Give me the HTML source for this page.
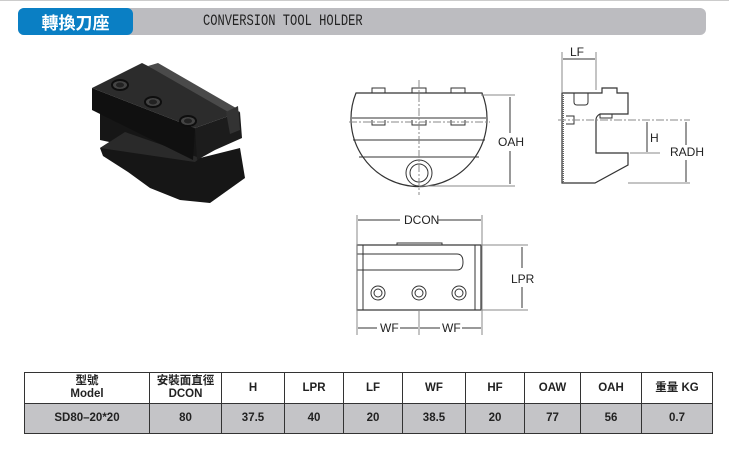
<!DOCTYPE html>
<html><head><meta charset="utf-8"><style>
body{margin:0;width:729px;height:451px;background:#fff;position:relative;overflow:hidden;font-family:"Liberation Sans","Noto Sans CJK TC",sans-serif}
.hdr{position:absolute;left:18px;top:8px;width:688px;height:27px;background:#bcbcc0;border-radius:6px}
.blue{position:absolute;left:18px;top:8px;width:115px;height:27px;background:#0a7fc4;border-radius:6px;color:#fff;font-size:17px;font-weight:bold;line-height:27px;text-align:center;font-family:"Noto Sans CJK TC",sans-serif}
.en{position:absolute;left:203px;top:8px;line-height:27px;font-family:"Liberation Mono",monospace;font-size:15.5px;color:#222;transform:scaleX(0.78);transform-origin:left}
table{position:absolute;left:24px;top:372px;width:689px;border-collapse:collapse;font-size:11.5px;font-weight:bold;color:#222;font-family:"Liberation Sans","Noto Sans CJK TC",sans-serif}
td{border:1px solid #333;text-align:center;padding:0;line-height:13px}
tr.h td{height:30px;background:#fff}
tr.d td{height:29px;background:#c4c4c7}
</style></head><body>
<div style="position:absolute;left:0;top:0;width:729px;height:1px;background:#ccc"></div>
<div class="hdr"></div><div class="blue">轉換刀座</div><div class="en">CONVERSION TOOL HOLDER</div>

<svg width="729" height="451" style="position:absolute;left:0;top:0" font-family="Liberation Sans, sans-serif">
<!-- photo -->
<g>
<polygon points="100,148 125,132 200,158 240,148 245,178 210,203 180,200 150,188 128,172 103,156" fill="#161616"/>
<polygon points="100,140 193,160 210,150 200,130 100,110" fill="#161616"/>
<polygon points="100,148 125,132 200,158 195,162" fill="#2a2a2a"/>
<polygon points="92,88 142,63 240,112 195,128" fill="#2c2c2c"/>
<polygon points="92,88 195,128 193,160 92,110" fill="#101010"/>
<polygon points="195,128 240,112 242,138 215,150 197,160" fill="#1c1c1c"/>
<polygon points="148,66 158,63 236,108 230,113" fill="#4a4a4a"/>
<polygon points="226,112 238,106 240,130 230,134" fill="#333"/>
<g fill="#444" stroke="#0e0e0e" stroke-width="2">
<ellipse cx="120" cy="85" rx="8" ry="5"/><ellipse cx="153" cy="102" rx="8" ry="5"/><ellipse cx="188" cy="121" rx="8" ry="5"/></g>
<g fill="#222"><ellipse cx="120" cy="85" rx="4" ry="2.5"/><ellipse cx="153" cy="102" rx="4" ry="2.5"/><ellipse cx="188" cy="121" rx="4" ry="2.5"/></g>
</g>
<g stroke="#333" fill="none" stroke-width="1">
<!-- front view -->
<path d="M356,93 L482,93 A68,68 0 1,1 356,93 Z" stroke-width="1.2"/>
<path d="M372,93 v-5 h13 v5 M412,93 v-5 h14 v5 M451,93 v-5 h14 v5"/>
<path d="M372,120 v5 h13 v-5 M412,120 v5 h14 v-5 M451,120 v5 h14 v-5"/>
<line x1="352" y1="118" x2="486" y2="118"/>
<line x1="353" y1="140" x2="485" y2="140"/><line x1="359" y1="157" x2="479" y2="157"/>
<circle cx="419" cy="173" r="13"/><circle cx="419" cy="173" r="9"/>
<line x1="349" y1="122" x2="490" y2="122" stroke-dasharray="8,2,2,2" stroke="#888"/>
<line x1="419" y1="80" x2="419" y2="195" stroke-dasharray="8,2,2,2" stroke="#888"/>
<line x1="481" y1="95" x2="515" y2="95" stroke="#888"/><line x1="419" y1="186" x2="515" y2="186" stroke="#888"/>
<line x1="510" y1="97" x2="510" y2="133"/><line x1="510" y1="151" x2="510" y2="184"/>
<!-- side view -->
<path d="M562,93 L602,93 L602,88 L617,88 L617,93 L628,93 L628,114 L600,114 Q596,116 596,120 L596,153 L628,153 L628,165 L595,183 L562,183 Z" stroke-width="1.2"/>
<path d="M574,93 v9 q0,3 3,3 h8 q3,0 3,-3 v-9"/>
<path d="M600,114 v4 h12 v-4"/>
<path d="M566,116 h8 v8 h-8"/>
<line x1="563" y1="95" x2="563" y2="182" stroke="#666" stroke-width="2" stroke-dasharray="1,1"/>
<line x1="558" y1="120" x2="690" y2="120" stroke-dasharray="8,2,2,2" stroke="#888"/>
<line x1="562" y1="52" x2="562" y2="92" stroke="#888"/><line x1="596" y1="52" x2="596" y2="90" stroke="#888"/>
<line x1="563" y1="59" x2="595" y2="59"/>
<line x1="630" y1="153" x2="660" y2="153" stroke="#888"/><line x1="628" y1="183" x2="690" y2="183" stroke="#888"/>
<line x1="647" y1="122" x2="647" y2="152"/><line x1="686" y1="122" x2="686" y2="145"/><line x1="686" y1="160" x2="686" y2="182"/>
<!-- top view -->
<rect x="357" y="245" width="124" height="65" stroke-width="1.2"/>
<line x1="363" y1="245" x2="363" y2="310"/><line x1="475" y1="245" x2="475" y2="310"/>
<path d="M397,245 v-2 h45 v2"/>
<path d="M357,254 h100 q6,0 6,8 q0,8 -6,8 h-100"/>
<circle cx="378" cy="293" r="7"/><circle cx="378" cy="293" r="4"/>
<circle cx="419" cy="293" r="7"/><circle cx="419" cy="293" r="4"/>
<circle cx="459" cy="293" r="7"/><circle cx="459" cy="293" r="4"/>
<line x1="357" y1="215" x2="357" y2="335" stroke="#888"/><line x1="482" y1="215" x2="482" y2="335" stroke="#888"/>
<line x1="419" y1="310" x2="419" y2="335" stroke="#888"/>
<line x1="358" y1="220" x2="400" y2="220"/><line x1="438" y1="220" x2="481" y2="220"/>
<line x1="481" y1="245" x2="528" y2="245" stroke="#888"/><line x1="481" y1="310" x2="528" y2="310" stroke="#888"/>
<line x1="522" y1="247" x2="522" y2="268"/><line x1="522" y1="287" x2="522" y2="308"/>
<line x1="358" y1="328" x2="377" y2="328"/><line x1="400" y1="328" x2="418" y2="328"/>
<line x1="420" y1="328" x2="440" y2="328"/><line x1="462" y1="328" x2="481" y2="328"/>
</g>
<g fill="#222" font-size="12" font-family="Liberation Sans, sans-serif">
<text x="498" y="146">OAH</text>
<text x="570" y="56">LF</text>
<text x="650" y="142">H</text>
<text x="670" y="156">RADH</text>
<text x="404" y="224">DCON</text>
<text x="511" y="283">LPR</text>
<text x="380" y="332">WF</text>
<text x="442" y="332">WF</text>
</g>
</svg>

<table>
<tr class="h"><td style="width:124px">型號<br>Model</td><td style="width:71px">安裝面直徑<br>DCON</td><td style="width:62px">H</td><td style="width:58px">LPR</td><td style="width:58px">LF</td><td style="width:62px">WF</td><td style="width:58px">HF</td><td style="width:55px">OAW</td><td style="width:60px">OAH</td><td>重量 KG</td></tr>
<tr class="d"><td>SD80–20*20</td><td>80</td><td>37.5</td><td>40</td><td>20</td><td>38.5</td><td>20</td><td>77</td><td>56</td><td>0.7</td></tr>
</table>
</body></html>
